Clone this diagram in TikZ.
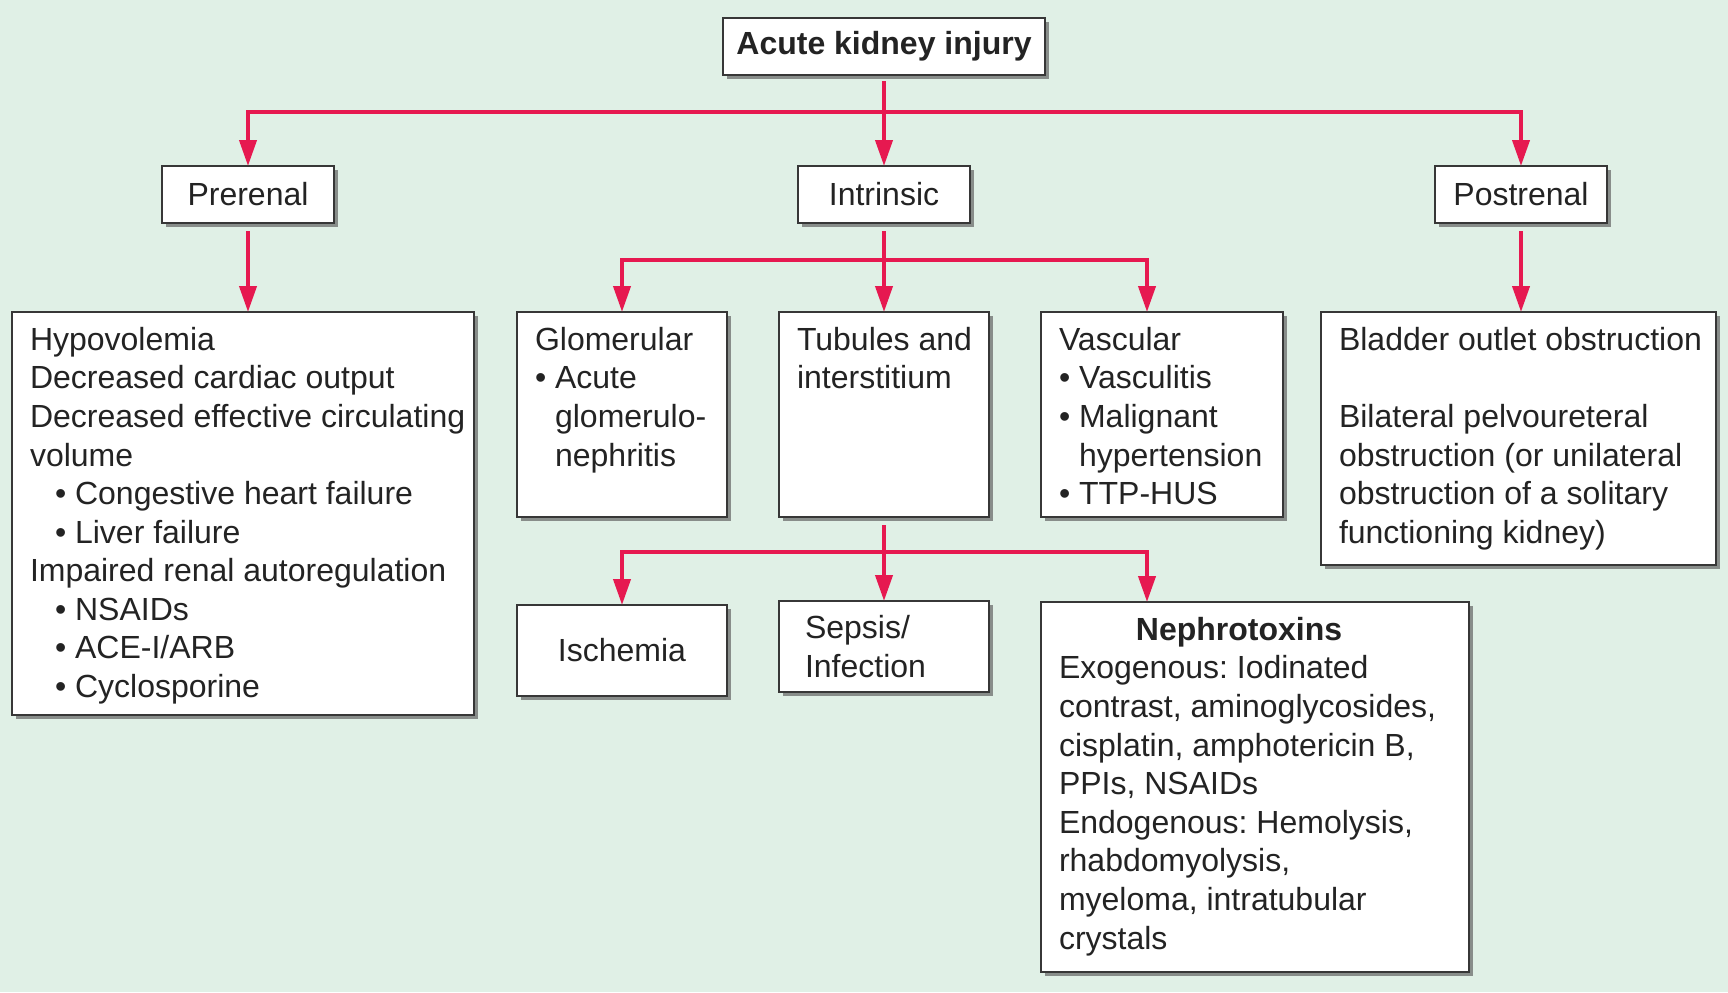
\documentclass[tikz,border=0pt]{standalone}
\usepackage{fontspec}
\setmainfont{Liberation Sans}
\usetikzlibrary{arrows.meta,shadows}

\definecolor{bgmint}{RGB}{224,240,230}
\definecolor{linkred}{RGB}{230,25,80}
\definecolor{edgegray}{RGB}{55,55,55}
\definecolor{inkgray}{RGB}{35,35,35}

\newcommand{\boxfont}{\fontsize{16}{19.3}\selectfont\frenchspacing}
\newcommand{\toplines}[3]{\parbox[t][#2][t]{#1}{\raggedright\leftskip=9pt #3}}
\newcommand{\bulletpad}{\phantom{\textbullet\ }}
\newcommand{\nestpad}{\hspace*{12.5pt}}

\begin{document}
\begin{tikzpicture}[x=0.5pt, y=-0.5pt,
  box/.style={draw=edgegray, line width=1.1pt, fill=white, anchor=north west,
    inner sep=0pt, outer sep=0pt, font=\boxfont, text=inkgray,
    drop shadow={shadow xshift=2pt, shadow yshift=-2pt, fill=black!65, opacity=0.65}},
  listbox/.style={box, inner ysep=7.5pt},
  link/.style={draw=linkred, line width=2pt},
  arr/.style={link, -{Triangle[length=13pt,width=8.5pt]}}]

  % Background
  \fill[bgmint] (0,0) rectangle (1728,992);
  \useasboundingbox (0,0) rectangle (1728,992);

  % Top levels
  \node[box, minimum width=161pt, minimum height=28.5pt] (aki) at (723,18) {\bfseries Acute kidney injury};
  \node[box, minimum width=86pt, minimum height=28.5pt] (pre) at (162,166) {Prerenal};
  \node[box, minimum width=86pt, minimum height=28.5pt] (intr) at (798,166) {Intrinsic};
  \node[box, minimum width=86pt, minimum height=28.5pt] (post) at (1435,166) {Postrenal};

  % Causes
  \node[listbox] (predet) at (12,312) {\toplines{231pt}{186.5pt}{Hypovolemia\\
    Decreased cardiac output\\
    Decreased effective circulating\\
    volume\\
    \nestpad\textbullet\ Congestive heart failure\\
    \nestpad\textbullet\ Liver failure\\
    Impaired renal autoregulation\\
    \nestpad\textbullet\ NSAIDs\\
    \nestpad\textbullet\ ACE-I/ARB\\
    \nestpad\textbullet\ Cyclosporine}};
  \node[listbox] (glom) at (517,312) {\toplines{105pt}{87.5pt}{Glomerular\\
    \textbullet\ Acute\\
    \bulletpad glomerulo-\\
    \bulletpad nephritis}};
  \node[listbox] (tub) at (779,312) {\toplines{105pt}{87.5pt}{Tubules and\\ interstitium}};
  \node[listbox] (vasc) at (1041,312) {\toplines{121pt}{87.5pt}{Vascular\\
    \textbullet\ Vasculitis\\
    \textbullet\ Malignant\\
    \bulletpad hypertension\\
    \textbullet\ TTP-HUS}};
  \node[listbox] (blad) at (1321,312) {\toplines{197.5pt}{111.5pt}{Bladder outlet obstruction\\[19.3pt]
    Bilateral pelvoureteral\\
    obstruction (or unilateral\\
    obstruction of a solitary\\
    functioning kidney)}};

  % Tubular causes
  \node[box, minimum width=105pt, minimum height=45.5pt] (isch) at (517,605) {Ischemia};
  \node[box, minimum height=45.5pt, inner xsep=13pt, text width=79pt, align=left] (seps) at (779,601) {Sepsis/\\ Infection};
  \node[listbox] (neph) at (1041,602) {\toplines{214pt}{170pt}{\makebox[180pt]{\bfseries Nephrotoxins}\\
    Exogenous: Iodinated\\
    contrast, aminoglycosides,\\
    cisplatin, amphotericin B,\\
    PPIs, NSAIDs\\
    Endogenous: Hemolysis,\\
    rhabdomyolysis,\\
    myeloma, intratubular\\
    crystals}};

  % Branch points
  \coordinate (b0) at (884,112);
  \coordinate (i0) at (884,260);
  \coordinate (i3) at (1147,260);
  \coordinate (u0) at (884,552);
  \coordinate (u3) at (1147,552);

  % Connectors
  \draw[arr, shorten <=3pt] (aki.south) -- (b0) -| (pre.north);
  \draw[arr] (b0) -| (post.north);
  \draw[arr] (b0) -- (intr.north);

  \draw[arr, shorten <=4pt] (pre.south) -- (predet.north -| pre.south);
  \draw[arr, shorten <=4pt] (post.south) -- (blad.north -| post.south);

  \draw[arr, shorten <=4pt] (intr.south) -- (i0) -| (glom.north);
  \draw[arr] (i0) -- (tub.north);
  \draw[arr] (i0) -- (i3) -- (vasc.north -| i3);

  \draw[arr, shorten <=4pt] (tub.south) -- (u0) -| (isch.north);
  \draw[arr] (u0) -- (seps.north);
  \draw[arr] (u0) -- (u3) -- (neph.north -| u3);
\end{tikzpicture}
\end{document}
